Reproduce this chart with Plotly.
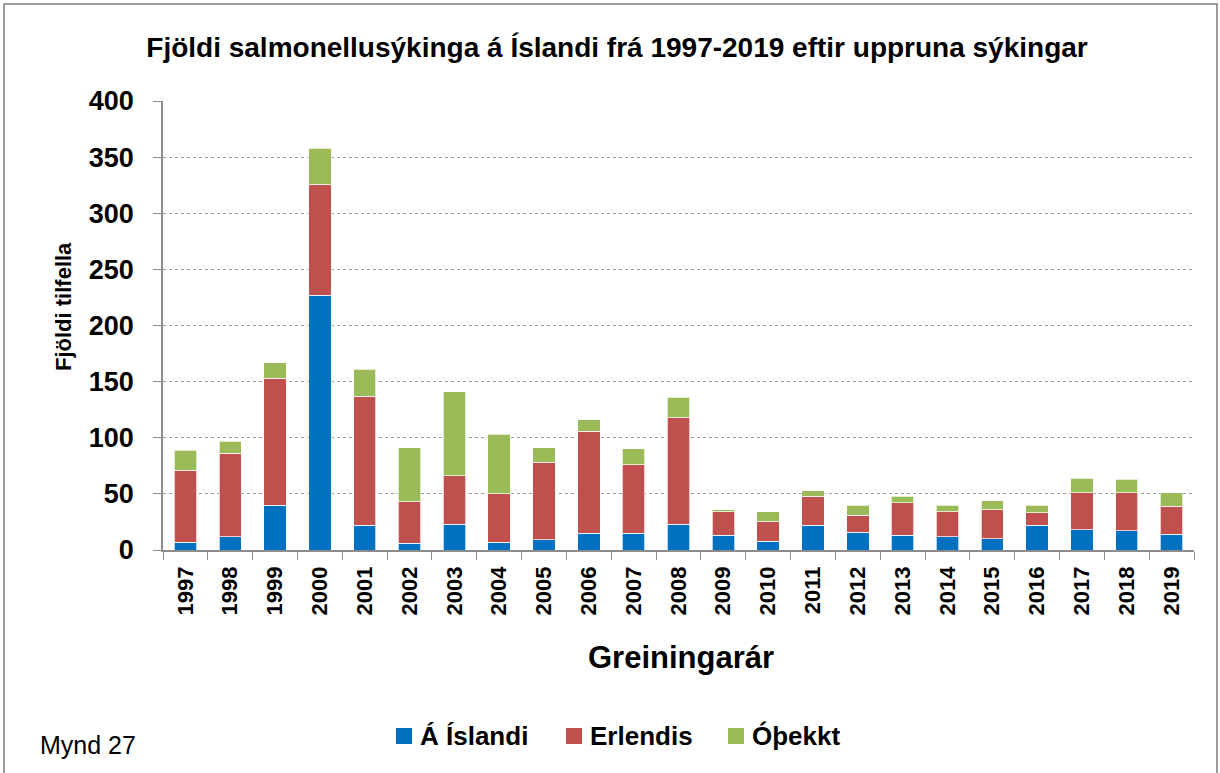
import plotly.graph_objects as go

years = [str(y) for y in range(1997, 2020)]
a_islandi = [7, 12, 40, 227, 22, 6, 23, 7, 9, 15, 15, 23, 13, 8, 22, 16, 13, 12, 10, 22, 18, 17, 14]
erlendis_top = [71, 86, 153, 326, 137, 43, 66, 50, 78, 106, 76, 118, 34, 25, 48, 31, 42, 34, 36, 33, 51, 51, 39]
total_top = [89, 97, 167, 358, 161, 91, 141, 103, 91, 116, 90, 136, 36, 34, 53, 40, 48, 40, 44, 40, 64, 63, 51]

erlendis = [e - a for e, a in zip(erlendis_top, a_islandi)]
othekkt = [t - e for t, e in zip(total_top, erlendis_top)]

series_names = ["Á Íslandi", "Erlendis", "Óþekkt"]
series_values = [a_islandi, erlendis, othekkt]
colors = ["#0070C0", "#C0504D", "#9BBB59"]

FONT = "Liberation Sans, Arial, sans-serif"

fig = go.Figure()
for name, vals, col in zip(series_names, series_values, colors):
    fig.add_trace(go.Bar(
        x=years, y=vals, name=name, showlegend=False,
        marker=dict(color=col, line=dict(color="rgba(255,255,255,0.7)", width=1)),
    ))

L, R, T, B = 163, 26, 101, 223
W = 1220 - L - R
H = 773 - T - B

def px(x):
    return (x - L) / W

def py(y):
    return (773 - B - y) / H

fig.update_layout(
    width=1220, height=773,
    barmode="stack", bargap=0.5,
    plot_bgcolor="white", paper_bgcolor="white",
    margin=dict(l=L, r=R, t=T, b=B, pad=0, autoexpand=False),
    font=dict(family=FONT, color="black"),
    title=dict(
        text="<b>Fjöldi salmonellusýkinga á Íslandi frá 1997-2019 eftir uppruna sýkingar</b>",
        x=617 / 1220, xanchor="center", xref="container",
        y=1 - 47 / 773, yanchor="middle", yref="container",
        font=dict(size=28, family=FONT, color="black"),
    ),
    showlegend=False,
)

fig.update_xaxes(
    type="category", showline=True, linecolor="#8c8c8c", linewidth=1.5,
    ticks="outside", tickson="boundaries", ticklen=8, tickcolor="#8c8c8c",
    tickangle=-90, tickfont=dict(size=22, family=FONT, color="black", weight="bold"),
    ticklabelstandoff=6, showgrid=False, automargin=False,
)
fig.update_yaxes(
    range=[0, 400], dtick=50, showline=True, linecolor="#8c8c8c", linewidth=1.5,
    ticks="outside", ticklen=8, tickcolor="#8c8c8c",
    tickfont=dict(size=27, family=FONT, color="black", weight="bold"),
    ticklabelstandoff=14, automargin=False,
    showgrid=True, gridcolor="#9a9a9a", griddash="dot", gridwidth=1,
    zeroline=False,
)

fig.add_annotation(text="<b>Greiningarár</b>", x=px(681), y=py(657), xref="paper", yref="paper",
                   showarrow=False, font=dict(size=31, family=FONT, color="black"),
                   xanchor="center", yanchor="middle")
fig.add_annotation(text="<b>Fjöldi tilfella</b>", x=px(63), y=py(307), xref="paper", yref="paper",
                   showarrow=False, textangle=-90, font=dict(size=22, family=FONT, color="black"),
                   xanchor="center", yanchor="middle")
fig.add_annotation(text="Mynd 27", x=px(38), y=py(745), xref="paper", yref="paper",
                   showarrow=False, font=dict(size=25, family=FONT, color="black"),
                   xanchor="left", yanchor="middle")

# custom legend (bottom, centered)
legend_square_x = [396, 566, 728]
legend_y = 736
for name, col, sx in zip(series_names, colors, legend_square_x):
    fig.add_shape(type="rect", xref="paper", yref="paper",
                  x0=px(sx), x1=px(sx + 16), y0=py(legend_y + 8), y1=py(legend_y - 8),
                  fillcolor=col, line=dict(width=0))
    fig.add_annotation(text=f"<b>{name}</b>", x=px(sx + 22), y=py(legend_y), xref="paper", yref="paper",
                       showarrow=False, font=dict(size=26, family=FONT, color="black"),
                       xanchor="left", yanchor="middle")

fig.add_shape(type="rect", xref="paper", yref="paper",
              x0=px(4), x1=px(1217), y0=py(790), y1=py(4),
              line=dict(color="#7f7f7f", width=1.5), layer="below")

fig.write_html("out.html", config={"displayModeBar": False},
               post_script="document.body.style.margin='0';document.body.style.overflow='hidden';")
